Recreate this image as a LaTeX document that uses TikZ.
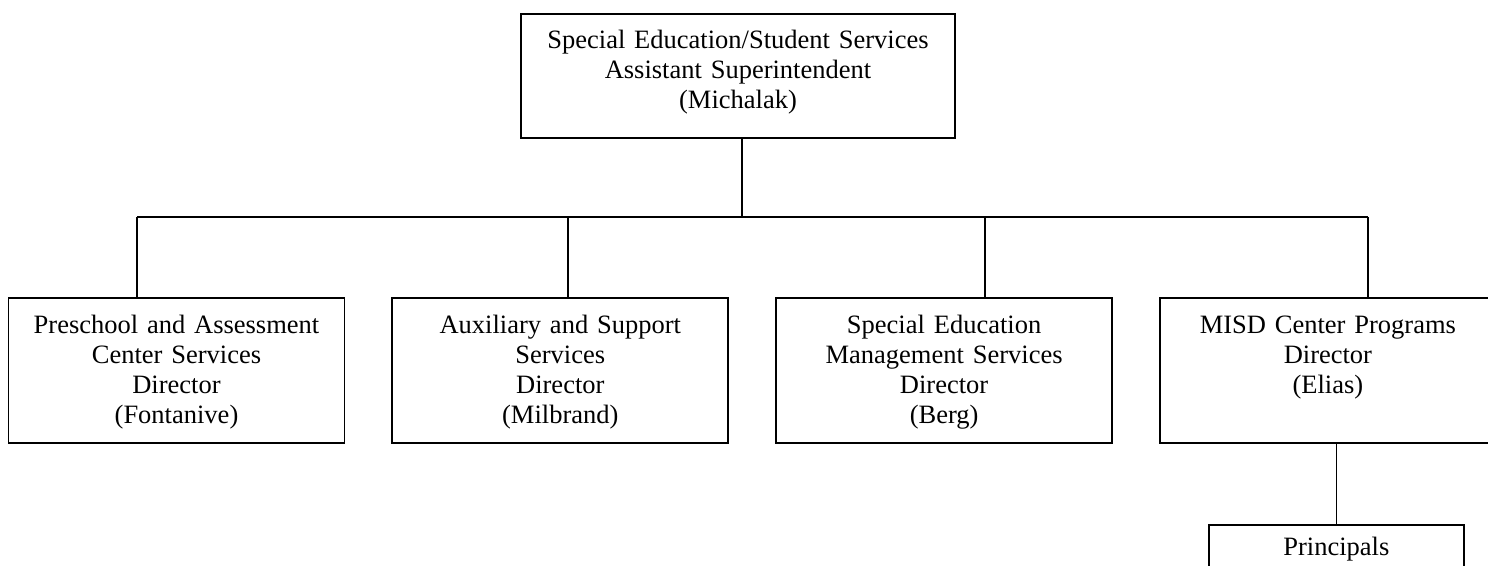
\documentclass[tikz,border=0pt]{standalone}
\usepackage{fontspec}
\setmainfont{Liberation Serif}
\usepackage{tikz}
\usetikzlibrary{positioning, calc}

\begin{document}
\begin{tikzpicture}[x=0.5pt, y=-0.5pt, line width=0.9pt,
	unit/.style={draw, inner sep=0pt, anchor=north, align=center,
		font=\fontsize{13.25}{15}\selectfont},
	head/.style={text width=217pt, text height=17.5pt, text depth=44.5pt},
	dept/.style={text width=168pt, text height=18pt, text depth=54.5pt},
	small/.style={text width=127.5pt, text height=15.5pt, text depth=30pt}]
	\useasboundingbox (0,0) rectangle (1488,566);

	\node[unit, head] (chief) at (738,13) {Special Education/Student Services\\Assistant Superintendent\\(Michalak)};

	\node[unit, dept] (pre) at (176.5,297) {Preschool and Assessment\\Center Services\\Director\\(Fontanive)};
	\node[unit, dept, right=23pt of pre] (aux) {Auxiliary and Support\\Services\\Director\\(Milbrand)};
	\node[unit, dept, right=23pt of aux] (mgmt) {Special Education\\Management Services\\Director\\(Berg)};
	\node[unit, dept, right=23pt of mgmt] (misd) {MISD Center Programs\\Director\\(Elias)};

	\node[unit, small, below=40pt of misd, xshift=4.25pt] (prin) {Principals};

	\coordinate (bus) at (742,217);
	\draw (chief.south -| bus) -- (bus);
	\foreach \x/\n [count=\i] in {137/pre, 568/aux, 985/mgmt, 1368/misd} {
		\coordinate (d\i) at (\x,217);
		\draw (d\i) -- (d\i |- \n.north);
	}
	\draw (d1) -- (d4);
	\draw (misd.south -| prin.north) -- (prin.north);
\end{tikzpicture}
\end{document}
